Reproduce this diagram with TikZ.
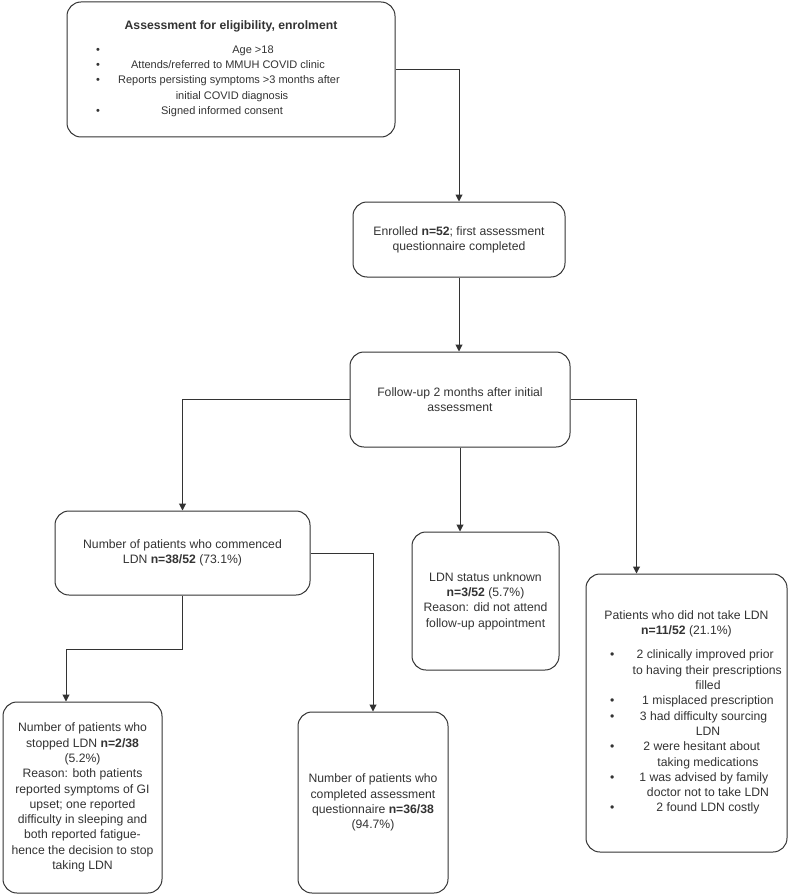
\documentclass[tikz,border=0pt]{standalone}
\usepackage{fontspec}
\setmainfont{Liberation Sans}
\usepackage{array}
\usetikzlibrary{arrows.meta}
\definecolor{ink}{HTML}{333333}
\begin{document}
\begin{tikzpicture}[x=1pt,y=-1pt,
  box/.style={draw=ink,line width=1pt,rounded corners=14pt,align=center,text=ink,inner sep=1pt,
    font=\fontsize{12.2}{15.3}\selectfont},
  arr/.style={draw=ink,line width=1pt,-{Triangle[length=7pt,width=7pt]}}]
\fill[white] (0,0) rectangle (790,896);
\useasboundingbox (0,0) rectangle (790,896);
\node[box,minimum width=328pt,minimum height=135pt] (assess) at (231,69.5) {\textbf{Assessment for eligibility, enrolment}\\[9pt]
\hspace*{-14pt}{\fontsize{11}{15.3}\selectfont\begin{tabular}{@{}p{16pt}@{}>{\centering\arraybackslash}p{240pt}@{}}
\textbullet & \hspace*{42pt}Age >18\\
\textbullet & \hspace*{-8pt}Attends/referred to MMUH COVID clinic\\
\textbullet & Reports persisting symptoms >3 months after\newline initial COVID diagnosis\\
\textbullet & \hspace*{-20pt}Signed informed consent
\end{tabular}}\\[-2pt]\mbox{}};
\node[box,minimum width=212pt,minimum height=75pt] (enrol) at (459,239.5) {Enrolled \textbf{n=52}; first assessment\\questionnaire completed};
\node[box,minimum width=220pt,minimum height=95pt] (follow) at (460,399.5) {Follow-up 2 months after initial\\assessment};
\node[box,minimum width=255pt,minimum height=84pt] (commenced) at (182.5,553) {Number of patients who commenced\\LDN \textbf{n=38/52} (73.1\%)};
\node[box,minimum width=147pt,minimum height=138pt] (unknown) at (485.5,601) {LDN status unknown\\\textbf{n=3/52} (5.7\%)\\Reason: did not attend\\follow-up appointment};
\node[box,minimum width=201pt,minimum height=278pt] (nottake) at (686.5,713) {Patients who did not take LDN\\\textbf{n=11/52} (21.1\%)\\[10pt]
\hspace*{22pt}\begin{tabular}{@{}p{21pt}@{}>{\centering\arraybackslash}p{154pt}@{}}
\textbullet & 2 clinically improved prior\newline to having their prescriptions\newline filled\\
\textbullet & 1 misplaced prescription\\
\textbullet & 3 had difficulty sourcing\newline LDN\\
\textbullet & 2 were hesitant about\newline taking medications\\
\textbullet & 1 was advised by family\newline doctor not to take LDN\\
\textbullet & 2 found LDN costly
\end{tabular}\\[-2pt]\mbox{}};
\node[box,minimum width=159pt,minimum height=191pt] (stopped) at (82.5,797.5) {Number of patients who\\stopped LDN \textbf{n=2/38}\\(5.2\%)\\Reason: both patients\\reported symptoms of GI\\upset; one reported\\difficulty in sleeping and\\both reported fatigue-\\hence the decision to stop\\taking LDN};
\node[box,minimum width=150pt,minimum height=181pt] (completed) at (373,802.5) {Number of patients who\\completed assessment\\questionnaire \textbf{n=36/38}\\(94.7\%)};
\draw[arr] (assess.east) -| (enrol.north);
\draw[arr] (enrol.south) -- (enrol.south |- follow.north);
\draw[arr] (follow.west) -| (commenced.north);
\draw[arr] (follow.south) -- (follow.south |- unknown.north);
\draw[arr] (follow.east) -| ([xshift=-50pt]nottake.north);
\draw[arr] (commenced.south) -- ++(0,54) -| ([xshift=-16.5pt]stopped.north);
\draw[arr] (commenced.east) -| (completed.north);
\end{tikzpicture}
\end{document}
